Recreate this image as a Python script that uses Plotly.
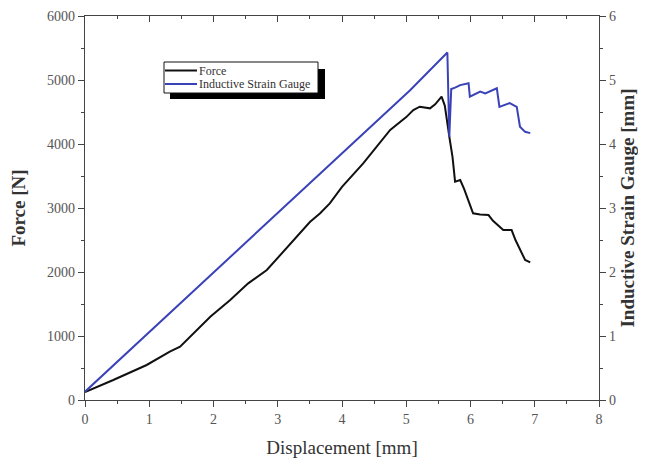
import plotly.graph_objects as go

# Force curve (black) - displacement [mm], force [N]
force_x = [0, 0.44, 0.96, 1.32, 1.48, 1.74, 1.95, 2.26, 2.54, 2.83, 3.2, 3.5, 3.66, 3.81,
           4.0, 4.33, 4.75, 5.0, 5.11, 5.21, 5.37, 5.45, 5.55, 5.6, 5.67, 5.72, 5.76, 5.84,
           5.9, 6.04, 6.15, 6.28, 6.35, 6.51, 6.64, 6.7, 6.85, 6.93]
force_y = [125, 312, 547, 755, 833, 1094, 1302, 1562, 1823, 2031, 2450, 2780, 2917, 3073,
           3330, 3698, 4219, 4420, 4531, 4583, 4557, 4620, 4739, 4600, 4114, 3800, 3411, 3437,
           3300, 2917, 2900, 2890, 2800, 2656, 2656, 2500, 2187, 2151]

# Inductive strain gauge (blue) - displacement [mm], gauge [mm]
gauge_x = [0, 2.26, 5.06, 5.64, 5.67, 5.70, 5.76, 5.84, 5.97, 5.99, 6.15, 6.23, 6.41,
           6.45, 6.61, 6.72, 6.77, 6.85, 6.93]
gauge_y = [0.13, 2.24, 4.84, 5.43, 4.11, 4.86, 4.88, 4.92, 4.95, 4.74, 4.82, 4.79, 4.87,
           4.58, 4.64, 4.58, 4.27, 4.19, 4.17]

series_names = ["Force", "Inductive Strain Gauge"]
series_colors = ["#111111", "#3a42b8"]

x_ticks = [0, 1, 2, 3, 4, 5, 6, 7, 8]
y_ticks = [0, 1000, 2000, 3000, 4000, 5000, 6000]
y2_ticks = [0, 1, 2, 3, 4, 5, 6]

SERIF = "Liberation Serif, Times New Roman, serif"
AX = "#444444"
TXT = "#555555"
TTL = "#333333"

# plot-area geometry (figure pixels)
W, H = 630, 450
L, T, PW, PH = 77, 8, 514, 384


def px(x):
    return (x - 8 - L) / PW


def py(y):
    return (T + PH - (y - 8)) / PH


fig = go.Figure()
fig.add_trace(go.Scatter(x=force_x, y=force_y, mode="lines", name=series_names[0],
                         line=dict(color=series_colors[0], width=2)))
fig.add_trace(go.Scatter(x=gauge_x, y=gauge_y, mode="lines", name=series_names[1],
                         line=dict(color=series_colors[1], width=2), yaxis="y2"))
# invisible trace to carry the top axis
fig.add_trace(go.Scatter(x=[0, 8], y=[0, 0], mode="lines", xaxis="x2", showlegend=False,
                         line=dict(width=0), hoverinfo="skip", opacity=0))

common_minor = dict(ticklen=3, tickcolor=AX, ticks="outside")

# custom legend with drop shadow
shapes = [
    dict(type="rect", xref="paper", yref="paper", x0=px(170), x1=px(325), y0=py(99), y1=py(69),
         fillcolor="black", line=dict(width=0), layer="above"),
    dict(type="rect", xref="paper", yref="paper", x0=px(164), x1=px(318), y0=py(93), y1=py(62),
         fillcolor="white", line=dict(color="#111111", width=1), layer="above"),
    dict(type="line", xref="paper", yref="paper", x0=px(165), x1=px(197), y0=py(70.5), y1=py(70.5),
         line=dict(color=series_colors[0], width=2), layer="above"),
    dict(type="line", xref="paper", yref="paper", x0=px(165), x1=px(197), y0=py(84), y1=py(84),
         line=dict(color=series_colors[1], width=2), layer="above"),
]
annotations = [
    dict(text=series_names[0], xref="paper", yref="paper", x=px(197), y=py(70.5),
         xanchor="left", yanchor="middle", showarrow=False,
         font=dict(family=SERIF, size=12, color=TTL)),
    dict(text=series_names[1], xref="paper", yref="paper", x=px(197), y=py(84),
         xanchor="left", yanchor="middle", showarrow=False,
         font=dict(family=SERIF, size=12, color=TTL)),
]

fig.update_layout(
    width=W, height=H,
    margin=dict(l=L, r=W - L - PW, t=T, b=H - T - PH, autoexpand=False),
    paper_bgcolor="white", plot_bgcolor="white",
    font=dict(family=SERIF, color=TXT, size=14),
    showlegend=False,
    xaxis=dict(range=[0, 8], tickvals=x_ticks, ticks="outside", ticklen=6, tickcolor=AX,
               showline=True, linecolor=AX, linewidth=1.3, showgrid=False, zeroline=False,
               minor=dict(dtick=0.5, ticklen=3, tickcolor=AX, ticks="outside"),
               title=dict(text="Displacement [mm]", font=dict(size=19, color=TTL),
                          standoff=22),
               tickfont=dict(size=14, color=TXT), automargin=False),
    xaxis2=dict(range=[0, 8], overlaying="x", side="top", tickvals=x_ticks,
                ticks="inside", ticklen=6, tickcolor=AX, showticklabels=False,
                showline=True, linecolor=AX, linewidth=1.3, showgrid=False, zeroline=False,
                minor=dict(dtick=0.5, ticklen=3, tickcolor=AX, ticks="inside"),
                automargin=False),
    yaxis=dict(range=[0, 6000], tickvals=y_ticks, ticks="outside", ticklen=6, tickcolor=AX,
               showline=True, linecolor=AX, linewidth=1.3, showgrid=False, zeroline=False,
               minor=dict(dtick=500, **common_minor),
               title=dict(text="<b>Force [N]</b>", font=dict(size=19, color=TTL),
                          standoff=16),
               tickfont=dict(size=14, color=TXT), automargin=False),
    yaxis2=dict(range=[0, 6], overlaying="y", side="right", tickvals=y2_ticks,
                ticks="outside", ticklen=6, tickcolor=AX,
                showline=True, linecolor=AX, linewidth=1.3, showgrid=False, zeroline=False,
                minor=dict(dtick=0.5, **common_minor),
                title=dict(text="<b>Inductive Strain Gauge [mm]</b>",
                           font=dict(size=19, color=TTL), standoff=18),
                tickfont=dict(size=14, color=TXT), automargin=False),
    shapes=shapes,
    annotations=annotations,
)

fig.write_html("out.html")
